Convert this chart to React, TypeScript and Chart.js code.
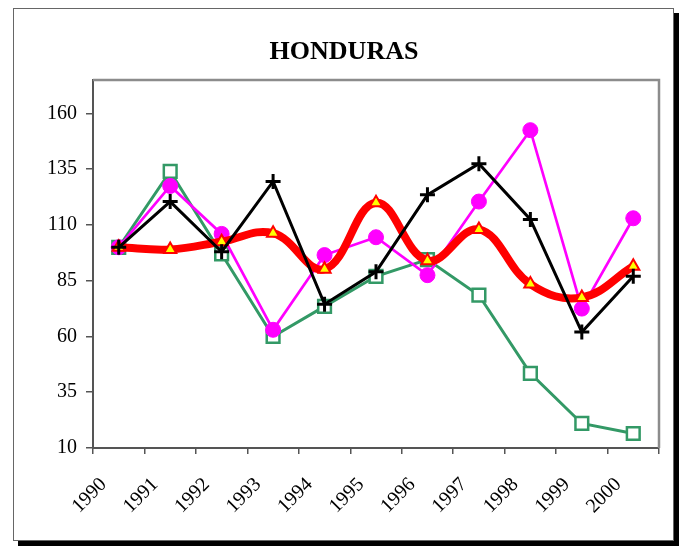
import React, { useEffect, useRef } from "react";
import { Chart, registerables } from "chart.js";

Chart.register(...registerables);

const years = ["1990", "1991", "1992", "1993", "1994", "1995", "1996", "1997", "1998", "1999", "2000"];
const seriesGreen = [100, 134, 97, 60, 73.5, 87, 94.5, 78.5, 43.5, 21, 16.5];
const seriesMagenta = [100, 127.5, 106, 63, 96.5, 104.5, 87.5, 120.5, 152.5, 72.5, 113];
const seriesBlack = [100, 120.5, 98, 129.5, 74.5, 89, 123.5, 137.5, 112.5, 62, 87];
const seriesRed = [100, 99, 102.5, 106.3, 90.2, 120, 94, 108, 83.5, 77.5, 91.5];
const yTickValues = [10, 35, 60, 85, 110, 135, 160];

const SERIF = '"Liberation Serif", "Times New Roman", serif';

const plotFrame = {
  id: "plotFrame",
  beforeDatasetsDraw(chart: any) {
    const { ctx, chartArea: a } = chart;
    ctx.save();
    ctx.strokeStyle = "#8c8c8c";
    ctx.lineWidth = 2.5;
    ctx.beginPath();
    ctx.moveTo(a.left, a.top);
    ctx.lineTo(a.right, a.top);
    ctx.lineTo(a.right, a.bottom);
    ctx.stroke();
    ctx.restore();
  },
};

export default function App() {
  const ref = useRef<HTMLCanvasElement | null>(null);

  useEffect(() => {
    if (!ref.current) return;
    const chart = new Chart(ref.current, {
      type: "line",
      data: {
        labels: years,
        datasets: [
          {
            label: "A",
            data: seriesBlack,
            order: 0,
            borderColor: "#000000",
            borderWidth: 3,
            pointStyle: "cross",
            pointRadius: 7.5,
            pointBorderWidth: 3,
            pointBorderColor: "#000000",
            pointBackgroundColor: "#000000",
            tension: 0,
            fill: false,
          },
          {
            label: "B",
            data: seriesRed,
            order: 1,
            borderColor: "#ff0000",
            borderWidth: 8,
            pointStyle: "triangle",
            pointRadius: 7,
            pointBorderWidth: 2,
            pointBorderColor: "#ff0000",
            pointBackgroundColor: "#ffff00",
            tension: 0.4,
            fill: false,
          },
          {
            label: "C",
            data: seriesMagenta,
            order: 2,
            borderColor: "#ff00ff",
            borderWidth: 2.7,
            pointStyle: "circle",
            pointRadius: 7.5,
            pointBorderWidth: 1,
            pointBorderColor: "#ff00ff",
            pointBackgroundColor: "#ff00ff",
            tension: 0,
            fill: false,
          },
          {
            label: "D",
            data: seriesGreen,
            order: 3,
            borderColor: "#339966",
            borderWidth: 3,
            pointStyle: "rect",
            pointRadius: 9,
            pointBorderWidth: 2.5,
            pointBorderColor: "#339966",
            pointBackgroundColor: "#ffffff",
            tension: 0,
            fill: false,
          },
        ],
      },
      options: {
        responsive: false,
        animation: false,
        layout: { padding: { left: 29, right: 26, top: 20, bottom: 0 } },
        plugins: {
          legend: { display: false },
          tooltip: { enabled: false },
          title: {
            display: true,
            text: "HONDURAS",
            color: "#000000",
            font: { family: SERIF, size: 26, weight: "bold" },
            padding: { top: 16.4, bottom: 12.4 },
          },
        },
        scales: {
          x: {
            type: "category",
            offset: true,
            grid: {
              offset: true,
              drawOnChartArea: false,
              drawTicks: true,
              tickLength: 6,
              color: "#555555",
              lineWidth: 1.5,
            },
            border: { display: true, color: "#555555", width: 2 },
            ticks: {
              autoSkip: false,
              maxRotation: 45,
              minRotation: 45,
              labelOffset: -15,
              padding: 19,
              color: "#000000",
              font: { family: SERIF, size: 20 },
            },
            afterFit: (s: any) => {
              s.height = 98;
            },
          },
          y: {
            min: 10,
            max: 175,
            afterBuildTicks: (s: any) => {
              s.ticks = yTickValues.map((v) => ({ value: v }));
            },
            grid: {
              drawOnChartArea: false,
              drawTicks: true,
              tickLength: 7,
              color: "#555555",
              lineWidth: 1.5,
            },
            border: { display: true, color: "#555555", width: 2 },
            ticks: {
              padding: 9,
              color: "#000000",
              font: { family: SERIF, size: 20 },
            },
            afterFit: (s: any) => {
              s.width = 64;
            },
          },
        },
      },
      plugins: [plotFrame],
    } as any);
    return () => chart.destroy();
  }, []);

  return (
    <div style={{ position: "absolute", left: 0, top: 0, width: 685, height: 546, background: "#ffffff" }}>
      <div
        style={{
          position: "absolute",
          left: 13,
          top: 8,
          width: 661,
          height: 533,
          boxSizing: "border-box",
          border: "1px solid #666666",
          boxShadow: "5px 5px 0 #000000",
          background: "#ffffff",
        }}
      />
      <canvas
        ref={ref}
        width={685}
        height={546}
        style={{ position: "absolute", left: 0, top: 0, width: 685, height: 546, display: "block" }}
      />
    </div>
  );
}
